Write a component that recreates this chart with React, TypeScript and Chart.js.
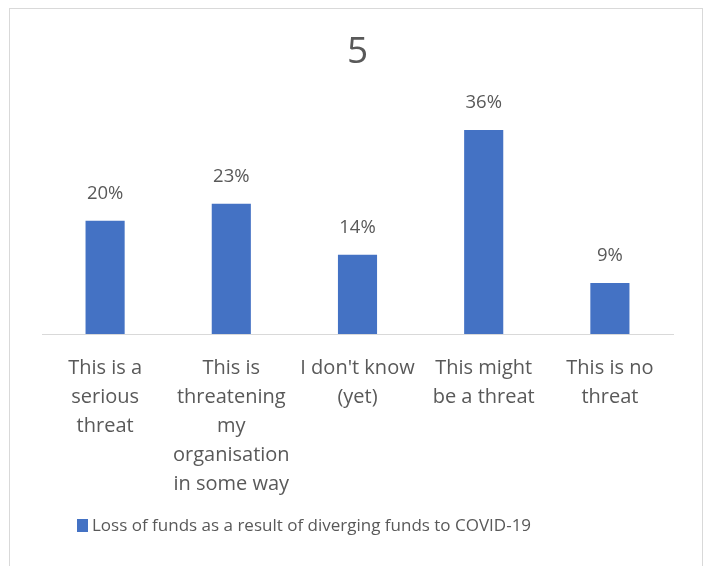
import React, { useEffect, useRef } from "react";
import { Chart, registerables } from "chart.js";

Chart.register(...registerables);

const categories: string[][] = [
  ["This is a", "serious", "threat"],
  ["This is", "threatening", "my", "organisation", "in some way"],
  ["I don't know", "(yet)"],
  ["This might", "be a threat"],
  ["This is no", "threat"],
];
const values: number[] = [20, 23, 14, 36, 9];
const seriesLabel = "Loss of funds as a result of diverging funds to COVID-19";
const chartTitle = "5";

const FONT = "'Open Sans', 'Noto Sans', sans-serif";
const TEXT = "#595959";
const BAR = "#4472C4";

const decorPlugin = {
  id: "decor",
  beforeDraw(chart: any) {
    const ctx = chart.ctx;
    ctx.save();
    ctx.fillStyle = "#ffffff";
    ctx.fillRect(0, 0, chart.width, chart.height);
    ctx.strokeStyle = "#d9d9d9";
    ctx.lineWidth = 1;
    ctx.strokeRect(9.5, 8.5, 693, 600);
    ctx.restore();
  },
  afterDatasetsDraw(chart: any) {
    const ctx = chart.ctx;
    const meta = chart.getDatasetMeta(0);
    const ds = chart.data.datasets[0];
    ctx.save();
    ctx.font = `18.5px ${FONT}`;
    ctx.fillStyle = TEXT;
    ctx.textAlign = "center";
    ctx.textBaseline = "middle";
    meta.data.forEach((el: any, i: number) => {
      ctx.fillText(`${ds.data[i]}%`, el.x, el.y - 27);
    });
    // legend
    const lx = 77;
    const ly = 526;
    ctx.fillStyle = ds.backgroundColor;
    ctx.fillRect(lx, ly - 7, 11, 13);
    ctx.fillStyle = TEXT;
    ctx.textAlign = "left";
    ctx.font = `17px ${FONT}`;
    ctx.fillText(ds.label, lx + 15, ly);
    ctx.restore();
  },
};

export default function App() {
  const ref = useRef<HTMLCanvasElement | null>(null);
  useEffect(() => {
    if (!ref.current) return;
    const chart = new Chart(ref.current, {
      type: "bar",
      data: {
        labels: categories,
        datasets: [
          {
            label: seriesLabel,
            data: values,
            backgroundColor: BAR,
            categoryPercentage: 1,
            barPercentage: 0.31,
          },
        ],
      },
      options: {
        responsive: false,
        animation: false,
        layout: { padding: { left: 42, right: 36, top: 0, bottom: 47 } },
        plugins: {
          legend: { display: false },
          tooltip: { enabled: false },
          title: {
            display: true,
            text: chartTitle,
            color: TEXT,
            font: { family: FONT, size: 37, weight: "normal" as any, lineHeight: 1.2 },
            padding: { top: 30, bottom: 33 },
          },
        },
        scales: {
          x: {
            grid: { display: false, drawTicks: false },
            border: { display: true, color: "#d9d9d9", width: 1 },
            ticks: {
              color: TEXT,
              font: { family: FONT, size: 20, lineHeight: 1.45 },
              padding: 20,
              autoSkip: false,
              maxRotation: 0,
              minRotation: 0,
            },
          },
          y: {
            display: false,
            min: 0,
            max: 40,
          },
        },
      },
      plugins: [decorPlugin],
    });
    return () => chart.destroy();
  }, []);
  return (
    <div style={{ position: "fixed", left: 0, top: 0, width: 709, height: 566, background: "#fff" }}>
      <canvas ref={ref} width={709} height={566} style={{ display: "block" }} />
    </div>
  );
}
